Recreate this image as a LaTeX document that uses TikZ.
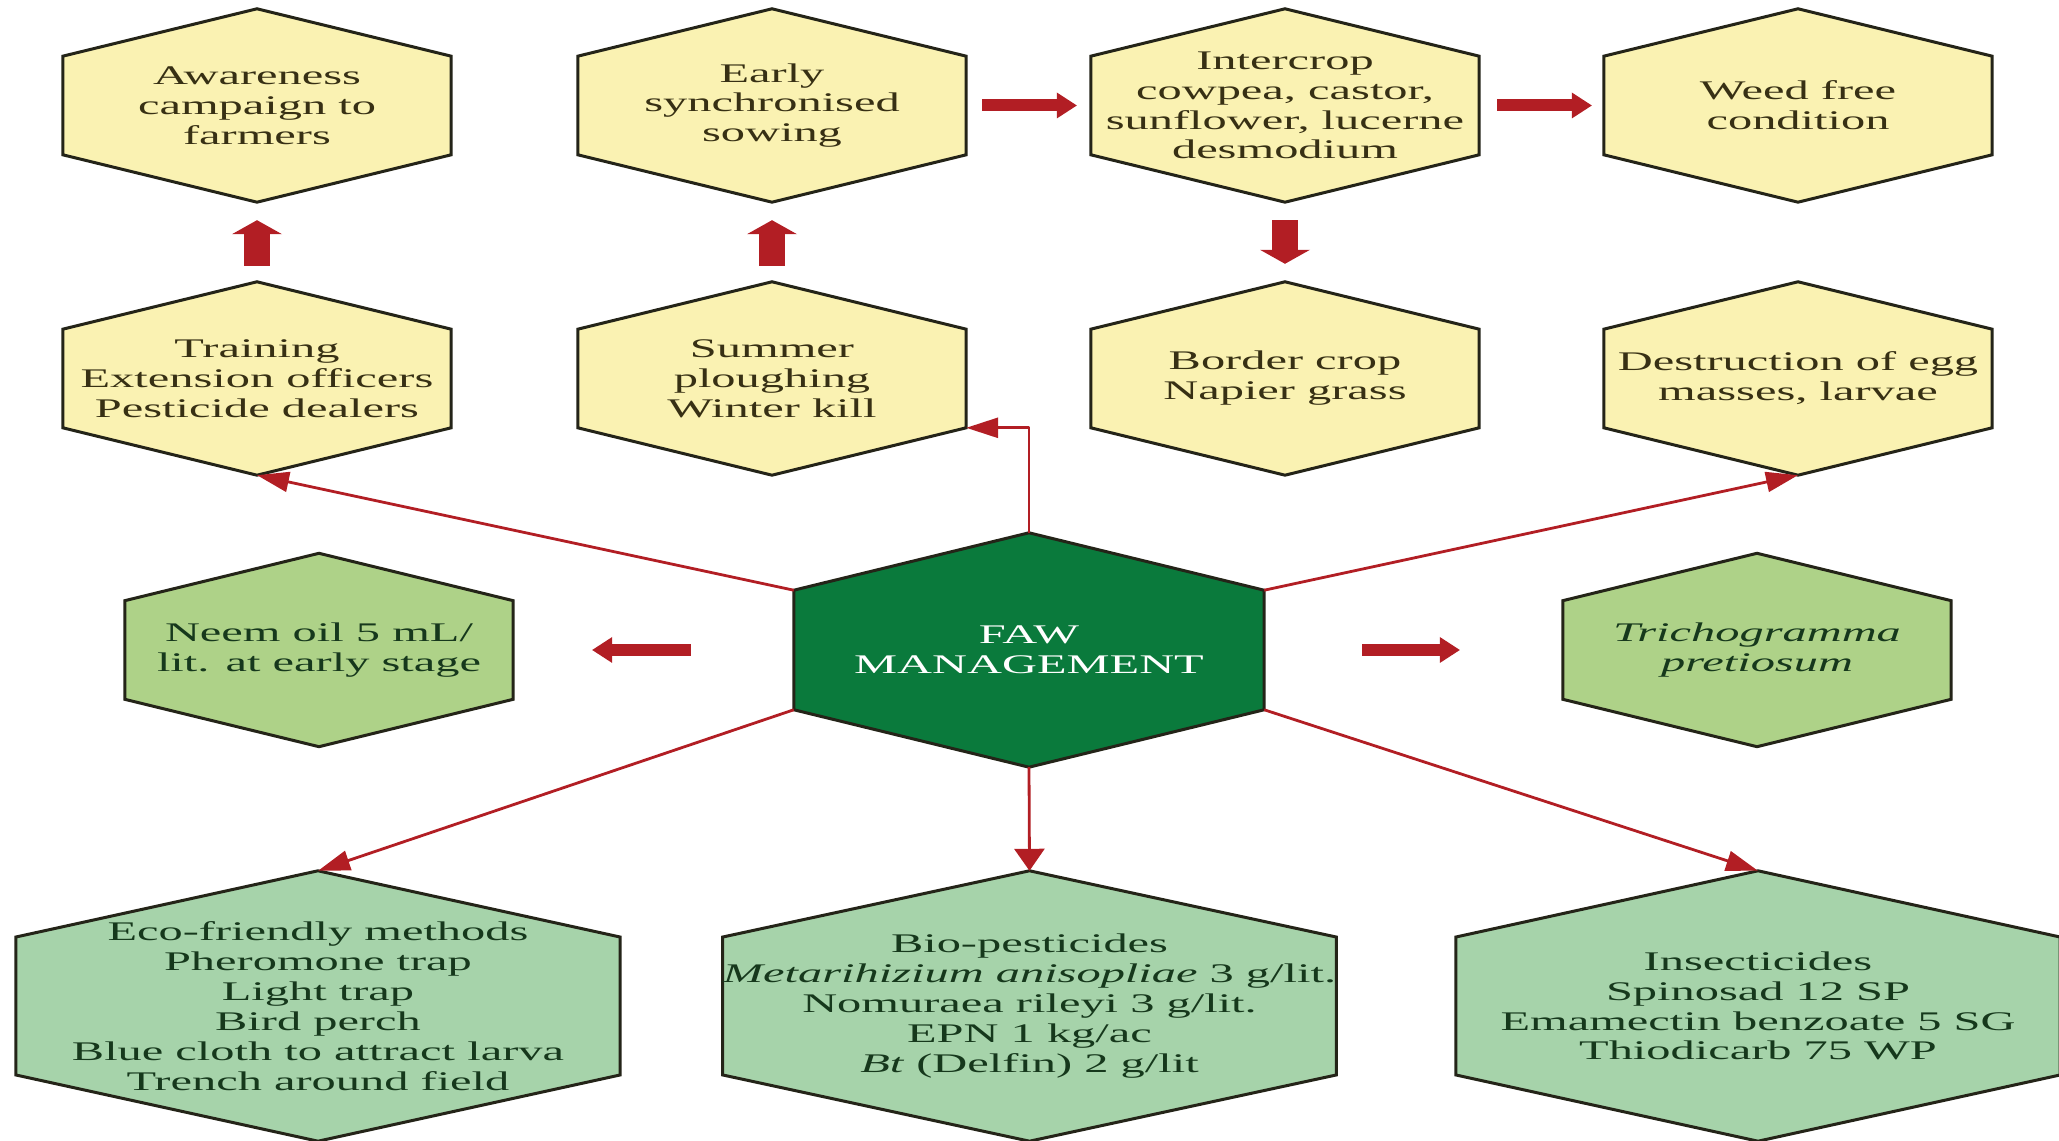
\documentclass[tikz,border=0pt]{standalone}
\usepackage{fontspec}
\setmainfont{Liberation Serif}[FakeStretch=1.8]
\usetikzlibrary{arrows.meta,calc,backgrounds}
\definecolor{hexyellow}{RGB}{250,242,178}
\definecolor{leafgreen}{RGB}{174,210,136}
\definecolor{mintgreen}{RGB}{166,211,170}
\definecolor{fawgreen}{RGB}{10,122,60}
\definecolor{hexline}{RGB}{36,36,24}
\definecolor{arrowred}{RGB}{178,30,36}
\definecolor{yellowtext}{RGB}{55,48,20}
\definecolor{greentext}{RGB}{22,56,28}
\tikzset{
  hexbox/.style={inner sep=0pt,align=center,minimum width=388bp,minimum height=193bp},
  yellowhex/.style={hexbox,text=yellowtext},
  leafhex/.style={hexbox,text=greentext},
  bighex/.style={inner sep=0pt,align=center,minimum width=604bp,minimum height=270bp,text=greentext},
  fawhex/.style={inner sep=0pt,align=center,minimum width=470bp,minimum height=234bp,text=white},
  conn/.style={draw=arrowred,line width=2.8bp,-{Triangle[length=32bp,width=20bp]}},
  blockh/.style={draw=arrowred,line width=12bp,-{Triangle[length=20bp,width=26bp,line width=0pt]}},
  blockv/.style={draw=arrowred,line width=26bp,-{Triangle[length=14bp,width=50bp,line width=0pt]}},
}
\begin{document}
\begin{tikzpicture}[>=latex,line join=bevel,font=\fontsize{27}{30}\selectfont]
\useasboundingbox (0bp,0bp) rectangle (2059bp,1141bp);
%%
\node (node_awareness) at (257bp,1035.5bp) [yellowhex] {Awareness\\campaign to\\farmers};
  \node (node_early) at (772bp,1035.5bp) [yellowhex] {Early\\synchronised\\sowing};
  \node (node_intercrop) at (1285bp,1035.5bp) [yellowhex] {Intercrop\\cowpea, castor,\\sunflower, lucerne\\desmodium};
  \node (node_weed) at (1798bp,1035.5bp) [yellowhex] {Weed free\\condition};
  \node (node_training) at (257bp,762.5bp) [yellowhex] {Training\\Extension officers\\Pesticide dealers};
  \node (node_summer) at (772bp,762.5bp) [yellowhex] {Summer\\ploughing\\Winter kill};
  \node (node_border) at (1285bp,762.5bp) [yellowhex] {Border crop\\Napier grass};
  \node (node_destruction) at (1798bp,762.5bp) [yellowhex] {Destruction of egg\\masses, larvae};
  \node (node_neem) at (319bp,491bp) [leafhex] {Neem oil 5 mL/\\lit. at early stage};
  \node (node_faw) at (1029bp,491bp) [fawhex] {FAW\\MANAGEMENT};
  \node (node_tricho) at (1757bp,491bp) [leafhex] {\textit{Trichogramma}\\\textit{pretiosum}};
  \node (node_eco) at (318bp,135bp) [bighex] {Eco-friendly methods\\Pheromone trap\\Light trap\\Bird perch\\Blue cloth to attract larva\\Trench around field};
  \node (node_bio) at (1029.5bp,135bp) [bighex] {Bio-pesticides\\\textit{Metarihizium anisopliae} 3 g/lit.\\Nomuraea rileyi 3 g/lit.\\EPN 1 kg/ac\\\textit{Bt} (Delfin) 2 g/lit};
  \node (node_insect) at (1758bp,135bp) [bighex] {Insecticides\\Spinosad 12 SP\\Emamectin benzoate 5 SG\\Thiodicarb 75 WP};
%
\begin{scope}[on background layer]
  \foreach \n/\c in {awareness/hexyellow,early/hexyellow,intercrop/hexyellow,weed/hexyellow,
      training/hexyellow,summer/hexyellow,border/hexyellow,destruction/hexyellow,
      neem/leafgreen,tricho/leafgreen,faw/fawgreen,eco/mintgreen,bio/mintgreen,insect/mintgreen}
    \filldraw [fill=\c,draw=hexline,line width=3bp,line join=miter]
      (node_\n.north) -- ($(node_\n.north east)!0.245!(node_\n.south east)$)
      -- ($(node_\n.south east)!0.245!(node_\n.north east)$) -- (node_\n.south)
      -- ($(node_\n.south west)!0.245!(node_\n.north west)$)
      -- ($(node_\n.north west)!0.245!(node_\n.south west)$) -- cycle;
\end{scope}
%
\coordinate (faw_uw) at ($(node_faw.north west)!0.245!(node_faw.south west)$);
\coordinate (faw_ue) at ($(node_faw.north east)!0.245!(node_faw.south east)$);
\coordinate (faw_lw) at ($(node_faw.south west)!0.245!(node_faw.north west)$);
\coordinate (faw_le) at ($(node_faw.south east)!0.245!(node_faw.north east)$);
\coordinate (summer_le) at ($(node_summer.south east)!0.245!(node_summer.north east)$);
  \draw [blockv,shorten <=16bp,shorten >=18bp] (node_training.north) -- (node_awareness.south);
  \draw [blockv,shorten <=16bp,shorten >=18bp] (node_summer.north) -- (node_early.south);
  \draw [blockv,shorten <=18bp,shorten >=18bp] (node_intercrop.south) -- (node_border.north);
  \draw [blockh,shorten <=16bp,shorten >=14bp] (node_early.east) -- (node_intercrop.west);
  \draw [blockh,shorten <=18bp,shorten >=12bp] (node_intercrop.east) -- (node_weed.west);
  \draw [blockh,shorten <=103bp,shorten >=79bp] (node_faw.west) -- (node_neem.east);
  \draw [blockh,shorten <=98bp,shorten >=103bp] (node_faw.east) -- (node_tricho.west);
  \draw [conn] (faw_uw) -- (node_training.south);
  \draw [conn] (node_faw.north) |- (summer_le);
  \draw [conn] (faw_ue) -- (node_destruction.south);
  \draw [conn] (faw_lw) -- (node_eco.north);
  \draw [conn,-{Triangle[length=22bp,width=30bp]}] (node_faw.south) -- (node_bio.north);
  \draw [conn] (faw_le) -- (node_insect.north);
%
\end{tikzpicture}
\end{document}
